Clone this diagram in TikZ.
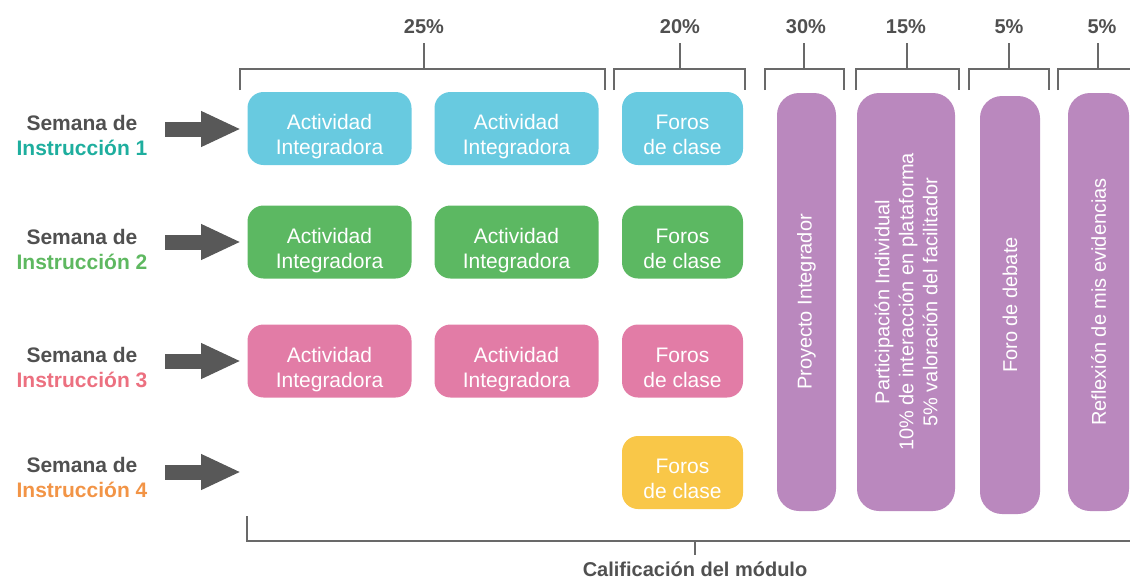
\documentclass[tikz,border=0pt]{standalone}
\usepackage{fontspec}
\setmainfont{Liberation Sans}
\usetikzlibrary{arrows.meta}

\tikzset{
    actbox/.style={fill=#1, rounded corners=16pt, text=white, align=center,
        minimum width=164pt, minimum height=73pt, inner sep=0pt,
        text height=52pt, text depth=0pt,
        font=\fontsize{21}{25}\selectfont},
    forobox/.style={actbox=#1, minimum width=121pt},
    colbox/.style={fill=colpurple, rounded corners=22pt, minimum height=418pt, inner sep=0pt},
    coltext/.style={rotate=90, text=white, align=center, font=\fontsize{20}{24}\selectfont},
    semana/.style={align=center, text=textgray, font=\bfseries\fontsize{21}{25}\selectfont},
    pct/.style={text=textgray, font=\bfseries\fontsize{20}{24}\selectfont},
    bracket/.style={draw=linegray, line width=2.8pt},
    bigarrow/.style={draw=arrowgray, line width=15pt, -{Triangle[length=40pt,width=33pt]}}
}

\begin{document}
\begin{tikzpicture}[x=1pt,y=-1pt]

    % Colors
    \definecolor{colblue}{RGB}{104,202,224}
    \definecolor{colgreen}{RGB}{92,184,98}
    \definecolor{colpink}{RGB}{226,124,166}
    \definecolor{colyellow}{RGB}{249,199,72}
    \definecolor{colpurple}{RGB}{186,136,190}
    \definecolor{textgray}{RGB}{80,80,80}
    \definecolor{arrowgray}{RGB}{88,88,88}
    \definecolor{linegray}{RGB}{105,105,105}
    \definecolor{instA}{RGB}{30,174,158}
    \definecolor{instB}{RGB}{94,184,96}
    \definecolor{instC}{RGB}{236,112,128}
    \definecolor{instD}{RGB}{242,148,70}

    \useasboundingbox (0,0) rectangle (1130,579);

    % Week labels
    \node[semana] (sem1) at (82,135) {Semana de\\\textcolor{instA}{Instrucción 1}};
    \node[semana] (sem2) at (82,249) {Semana de\\\textcolor{instB}{Instrucción 2}};
    \node[semana] (sem3) at (82,368) {Semana de\\\textcolor{instC}{Instrucción 3}};
    \node[semana] (sem4) at (82,477) {Semana de\\\textcolor{instD}{Instrucción 4}};

    % Arrows
    \coordinate (arr1s) at (165,129); \coordinate (arr1e) at (241,129);
    \coordinate (arr2s) at (165,242); \coordinate (arr2e) at (241,242);
    \coordinate (arr3s) at (165,361); \coordinate (arr3e) at (241,361);
    \coordinate (arr4s) at (165,472); \coordinate (arr4e) at (241,472);
    \draw[bigarrow] (arr1s) -- (arr1e);
    \draw[bigarrow] (arr2s) -- (arr2e);
    \draw[bigarrow] (arr3s) -- (arr3e);
    \draw[bigarrow] (arr4s) -- (arr4e);

    % Week 1
    \node[actbox=colblue] (act1a) at (329.5,128.5) {Actividad\\Integradora};
    \node[actbox=colblue] (act1b) at (516.5,128.5) {Actividad\\Integradora};
    \node[forobox=colblue] (foros1) at (682.5,128.5) {Foros\\de clase};

    % Week 2
    \node[actbox=colgreen] (act2a) at (329.5,242) {Actividad\\Integradora};
    \node[actbox=colgreen] (act2b) at (516.5,242) {Actividad\\Integradora};
    \node[forobox=colgreen] (foros2) at (682.5,242) {Foros\\de clase};

    % Week 3
    \node[actbox=colpink] (act3a) at (329.5,361) {Actividad\\Integradora};
    \node[actbox=colpink] (act3b) at (516.5,361) {Actividad\\Integradora};
    \node[forobox=colpink] (foros3) at (682.5,361) {Foros\\de clase};

    % Week 4
    \node[forobox=colyellow] (foros4) at (682.5,472.5) {Foros\\de clase};

    % Purple columns
    \node[colbox, minimum width=59pt] (proy) at (806.5,302) {};
    \node[coltext] at (proy) {Proyecto Integrador};
    \node[colbox, minimum width=98pt] (part) at (906,302) {};
    \node[coltext] at (part) {Participación Individual\\10\% de interacción en plataforma\\5\% valoración del facilitador};
    \node[colbox, minimum width=60pt] (debate) at (1010,305) {};
    \node[coltext] at (debate) {Foro de debate};
    \node[colbox, minimum width=61pt] (refl) at (1098.5,302) {};
    \node[coltext] at (refl) {Reflexión de mis evidencias};

    % Percentages and brackets
    \node[pct] (p25) at (424,27) {25\%};
    \node[pct] (p20) at (680,27) {20\%};
    \node[pct] (p30) at (806,27) {30\%};
    \node[pct] (p15) at (906,27) {15\%};
    \node[pct] (p5a) at (1009,27) {5\%};
    \node[pct] (p5b) at (1102,27) {5\%};
    \draw[bracket] (240,90) |- (605,69) -- (605,90);
    \draw[bracket] (p25.south |- 0,43) -- (p25.south |- 0,69);
    \draw[bracket] (614,90) |- (745,69) -- (745,90);
    \draw[bracket] (p20.south |- 0,43) -- (p20.south |- 0,69);
    \draw[bracket] (765,90) |- (844,69) -- (844,90);
    \draw[bracket] (804,43) -- (804,69);
    \draw[bracket] (856,90) |- (959,69) -- (959,90);
    \draw[bracket] (907,43) -- (907,69);
    \draw[bracket] (969,90) |- (1049,69) -- (1049,90);
    \draw[bracket] (1009,43) -- (1009,69);
    \draw[bracket] (1058,90) |- (1135,69);
    \draw[bracket] (1098,43) -- (1098,69);

    % Module grade
    \node[pct] (calif) at (695,569) {Calificación del módulo};
    \draw[bracket] (247,516) |- (1135,541);
    \draw[bracket] (695,541) -- (695,555);

\end{tikzpicture}
\end{document}
